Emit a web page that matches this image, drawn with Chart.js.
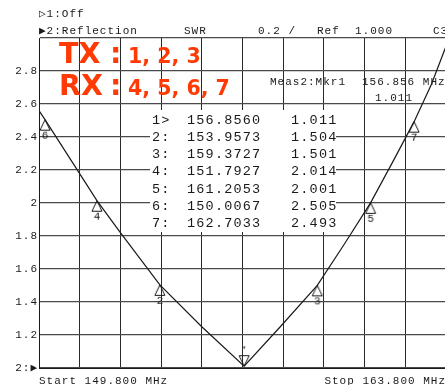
<!DOCTYPE html>
<html>
<head>
<meta charset="utf-8">
<script src="https://cdn.jsdelivr.net/npm/chart.js@4.4.1/dist/chart.umd.min.js"></script>
<style>
    html, body { margin: 0; padding: 0; background: #fff; overflow: hidden; }
    #wrap { width: 452px; height: 385px; }
</style>
</head>
<body>
<div id="wrap"><canvas id="swrChart" width="452" height="385"></canvas></div>
<script>
// trace
const freqMHz   = [149.8, 150.0067, 150.9, 151.7927, 152.6, 153.9573, 155.4, 156.856, 158.1, 159.3727, 160.3, 161.2053, 162.0, 162.7033, 163.3, 163.8];
const swrValues = [2.56, 2.505, 2.26, 2.014, 1.82, 1.504, 1.25, 1.011, 1.25, 1.501, 1.75, 2.001, 2.26, 2.493, 2.72, 2.95];

// markers
const markerNames = ['1', '2', '3', '4', '5', '6', '7'];
const markerFreq  = [156.8560, 153.9573, 159.3727, 151.7927, 161.2053, 150.0067, 162.7033];
const markerSwr   = [1.011, 1.504, 1.501, 2.014, 2.001, 2.505, 2.493];

// axes
const xTicks = [149.8, 151.2, 152.6, 154.0, 155.4, 156.8, 158.2, 159.6, 161.0, 162.4, 163.8];
const yTicks = [1.0, 1.2, 1.4, 1.6, 1.8, 2.0, 2.2, 2.4, 2.6, 2.8, 3.0];
const yTickLabels = ['2:\u25B6', '1.2', '1.4', '1.6', '1.8', '2', '2.2', '2.4', '2.6', '2.8', ''];
const startLabel = 'Start 149.800 MHz';
const stopLabel  = 'Stop 163.800 MHz';

const MONO = '"Liberation Mono", "DejaVu Sans Mono", monospace';
const INK = '#1a1a1a';

function markerIcon(name, active) {
    const c = document.createElement('canvas');
    c.width = 16; c.height = 46;
    const g = c.getContext('2d');
    g.strokeStyle = INK; g.fillStyle = INK; g.lineWidth = 1;
    g.textAlign = 'center';
    g.font = '11px ' + MONO;
    if (active) {
        g.beginPath(); g.moveTo(8, 23); g.lineTo(3, 12.5); g.lineTo(13, 12.5); g.closePath(); g.stroke();
        g.fillRect(7.5, 3, 1.2, 2.5);
    } else {
        g.beginPath(); g.moveTo(8, 23); g.lineTo(3, 33.5); g.lineTo(13, 33.5); g.closePath(); g.stroke();
        g.textBaseline = 'top';
        g.fillText(name, 8, 33.5);
    }
    return c;
}
const markerIcons = markerNames.map((n, i) => markerIcon(n, i === 0));

const overlay = {
    id: 'overlay',
    beforeDraw(chart) {
        chart.ctx.letterSpacing = '1px';
    },
    beforeDatasetsDraw(chart) {
        const ctx = chart.ctx;
        ctx.save();
        ctx.fillStyle = '#fff';
        ctx.fillRect(150, 110, 186, 122);
        ctx.restore();
    },
    afterDraw(chart) {
        const ctx = chart.ctx;
        ctx.save();
        ctx.fillStyle = INK;
        ctx.textBaseline = 'middle';
        ctx.textAlign = 'left';

        // header
        ctx.letterSpacing = '1px';
        ctx.font = '11px ' + MONO;
        ctx.fillText('\u25B71:Off', 39, 14);
        ctx.fillText('\u25B62:Reflection', 39, 31);
        ctx.fillText('SWR', 184, 31);
        ctx.fillText('0.2 /', 258, 31);
        ctx.fillText('Ref', 317, 31);
        ctx.fillText('1.000', 355, 31);
        ctx.fillText('C3', 433, 31);

        // active marker readout
        ctx.fillText('Meas2:Mkr1', 270, 82);
        ctx.fillText(markerFreq[0].toFixed(3) + ' MHz', 362, 82);
        ctx.fillText(markerSwr[0].toFixed(3), 375, 98);

        // marker table
        ctx.font = '13.5px ' + MONO;
        ctx.letterSpacing = '1.2px';
        markerNames.forEach((n, i) => {
            const y = 120 + i * 17.3;
            ctx.fillText(n + (i === 0 ? '>' : ':'), 152, y);
            ctx.fillText(markerFreq[i].toFixed(4), 187, y);
            ctx.fillText(markerSwr[i].toFixed(3), 291, y);
        });

        // TX / RX note
        ctx.fillStyle = '#ff3a05';
        ctx.textBaseline = 'alphabetic';
        ctx.letterSpacing = '0px';
        ctx.font = 'bold 28.5px "DejaVu Sans"';
        ctx.fillText('TX', 59, 63);
        ctx.fillText('RX', 59, 94.5);
        ctx.fillText(':', 110, 63);
        ctx.fillText(':', 110, 94.5);
        ctx.font = 'bold 20.5px "DejaVu Sans"';
        ctx.fillText('1, 2, 3', 128, 63);
        ctx.fillText('4, 5, 6, 7', 128, 94.5);
        ctx.restore();
    }
};

new Chart(document.getElementById('swrChart'), {
    type: 'line',
    data: {
        datasets: [{
            label: 'SWR',
            data: freqMHz.map((f, i) => ({ x: f, y: swrValues[i] })),
            borderColor: INK,
            borderWidth: 1.2,
            pointRadius: 0,
            tension: 0,
            fill: false
        }, {
            label: 'Markers',
            data: markerFreq.map((f, i) => ({ x: f, y: markerSwr[i] })),
            showLine: false,
            pointStyle: ctx => markerIcons[ctx.dataIndex],
            pointRadius: 5
        }]
    },
    options: {
        responsive: false,
        devicePixelRatio: 1,
        animation: false,
        events: [],
        layout: { padding: { top: 38, left: 0, right: 5, bottom: 0 } },
        plugins: { legend: { display: false }, tooltip: { enabled: false } },
        scales: {
            x: {
                type: 'linear',
                min: xTicks[0],
                max: xTicks[xTicks.length - 1],
                afterBuildTicks: s => { s.ticks = xTicks.map(v => ({ value: v })); },
                afterFit: s => { s.height = 17; },
                grid: { color: '#2a2a2a', lineWidth: 1, drawTicks: false },
                border: { display: true, color: INK, width: 1 },
                ticks: {
                    autoSkip: false,
                    maxRotation: 0,
                    minRotation: 0,
                    align: 'inner',
                    padding: 6,
                    color: INK,
                    font: { family: MONO, size: 11 },
                    callback: (v, i) => i === 0 ? startLabel : (i === xTicks.length - 1 ? stopLabel : '')
                }
            },
            y: {
                min: yTicks[0],
                max: yTicks[yTicks.length - 1],
                afterBuildTicks: s => { s.ticks = yTicks.map(v => ({ value: v })); },
                afterFit: s => { s.width = 39; },
                grid: { color: '#4a4a4a', lineWidth: 1.2, drawTicks: false },
                border: { display: true, color: INK, width: 1 },
                ticks: {
                    autoSkip: false,
                    padding: 1,
                    color: INK,
                    font: { family: MONO, size: 11 },
                    callback: (v, i) => yTickLabels[i]
                }
            }
        }
    },
    plugins: [overlay]
});
</script>
</body>
</html>
